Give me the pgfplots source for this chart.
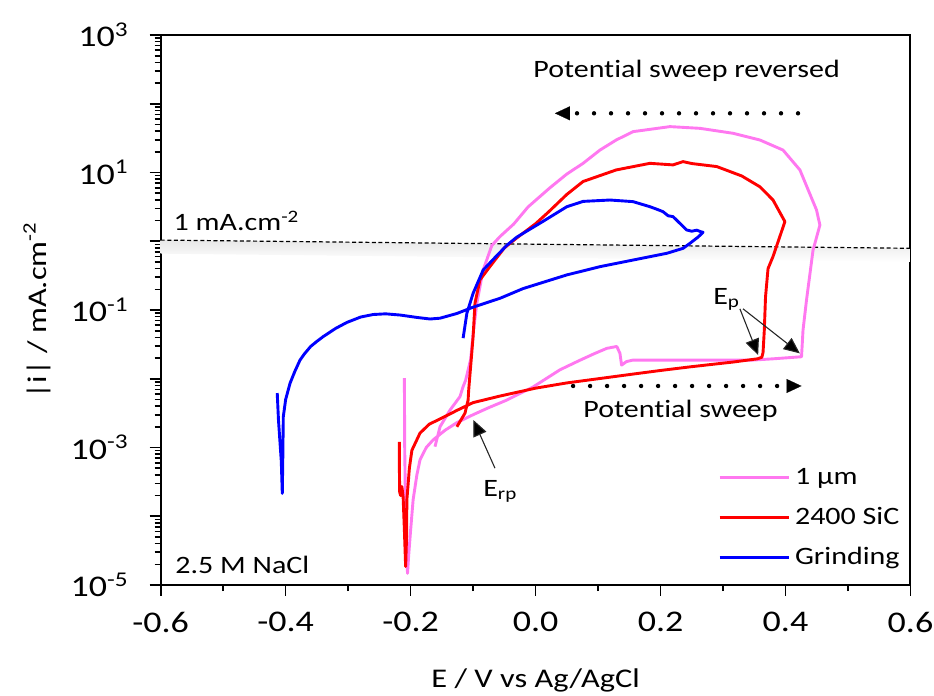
\documentclass[border=0pt]{standalone}
\usepackage{fontspec}
\setmainfont{Carlito}[FakeStretch=1.2, Ligatures=NoCommon]
\usepackage{pgfplots}
\pgfplotsset{compat=1.18}
\usetikzlibrary{arrows.meta}
\definecolor{pinkc}{RGB}{255,120,240}
\definecolor{redc}{RGB}{255,0,0}
\definecolor{bluec}{RGB}{0,0,255}
\begin{document}
\begin{tikzpicture}
\begin{axis}[
  scale only axis, width=374.9pt, height=275pt,
  xmin=-0.6, xmax=0.6, ymode=log, ymin=1e-5, ymax=1e3,
  xtick={-0.6,-0.4,-0.2,0,0.2,0.4,0.6},
  xticklabels={-0.6,-0.4,-0.2,0.0,0.2,0.4,0.6},
  minor xtick={-0.5,-0.3,-0.1,0.1,0.3,0.5},
  ytick={1e-5,1e-4,1e-3,1e-2,1e-1,1,10,100,1000},
  yticklabels={10\textsuperscript{-5},{},10\textsuperscript{-3},{},10\textsuperscript{-1},{},10\textsuperscript{1},{},10\textsuperscript{3}},
  minor ytick={2e-5,3e-5,4e-5,5e-5,6e-5,7e-5,8e-5,9e-5,
    2e-4,3e-4,4e-4,5e-4,6e-4,7e-4,8e-4,9e-4,
    2e-3,3e-3,4e-3,5e-3,6e-3,7e-3,8e-3,9e-3,
    2e-2,3e-2,4e-2,5e-2,6e-2,7e-2,8e-2,9e-2,
    0.2,0.3,0.4,0.5,0.6,0.7,0.8,0.9,
    2,3,4,5,6,7,8,9,
    20,30,40,50,60,70,80,90,
    200,300,400,500,600,700,800,900},
  tick align=outside, xtick pos=bottom, ytick pos=left,
  major tick length=5.5pt, minor tick length=3pt,
  axis line style={line width=1pt},
  every tick/.style={black, line width=0.8pt},
  tick label style={font=\fontsize{15}{18}\selectfont},
  xticklabel style={yshift=-4.5pt},
  yticklabel style={xshift=-7pt},
  label style={font=\fontsize{13.5}{16}\selectfont},
  xlabel={E / V vs Ag/AgCl},
  xlabel style={at={(axis description cs:0.5,-0.187)}, anchor=base},
  ylabel={|i| / mA.cm\textsuperscript{-2}},
  ylabel style={at={(axis description cs:-0.165,0.5)}, anchor=center},
  legend cell align=left,
  legend image code/.code={\draw[#1, line width=1.4pt] (0pt,0pt) -- (34.5pt,0pt);},
  legend style={draw=none, fill=none, at={(axis cs:0.2917,7.34e-4)}, anchor=north west,
    font=\fontsize{12.5}{15}\selectfont, row sep=0pt, inner sep=0pt,
    nodes={text height=11pt, text depth=4pt, inner sep=2.5pt}},
]
% shadow and 1 mA line
\addplot[draw=none, top color=black!9, bottom color=white, forget plot]
  coordinates {(-0.6,1.04) (0.6,0.79) (0.6,0.5) (-0.6,0.66)} -- cycle;
\addplot[black, line width=0.6pt, dash pattern=on 2pt off 1.3pt, forget plot]
  coordinates {(-0.6,1.04) (0.6,0.79)};

\addplot[pinkc, line width=1.45pt, line join=round] coordinates {
(-0.2100,1.02e-2) (-0.2095,1.0e-3) (-0.2080,1.0e-4) (-0.2050,1.48e-5) (-0.2030,2.8e-5)
(-0.2000,6.3e-5) (-0.1960,1.74e-4) (-0.1900,4.0e-4) (-0.1850,6.6e-4) (-0.1750,1.0e-3)
(-0.1640,1.29e-3) (-0.1450,1.78e-3) (-0.1260,2.3e-3) (-0.1000,3.0e-3) (-0.0750,3.8e-3)
(-0.0460,4.9e-3) (-0.0040,7.6e-3) (0.0390,1.35e-2) (0.0710,1.86e-2) (0.0950,2.34e-2)
(0.1140,2.77e-2) (0.1300,2.95e-2) (0.1350,2.34e-2) (0.1376,1.58e-2) (0.1456,1.78e-2)
(0.1560,1.87e-2) (0.2500,1.87e-2) (0.3480,1.87e-2) (0.3800,1.95e-2) (0.4256,2.09e-2)
(0.4280,5.1e-2) (0.4336,0.14) (0.4440,0.74) (0.4550,1.72) (0.4496,2.85)
(0.4230,10.9) (0.3960,21.2) (0.3590,29.7) (0.3160,37.2) (0.2630,43.9)
(0.2150,46.5) (0.1560,39.3) (0.1290,29.7) (0.1030,21.2) (0.0760,13.6)
(0.0500,9.5) (0.0230,6.0) (-0.0120,3.16) (-0.0350,1.78) (-0.0570,1.17)
(-0.0700,0.87) (-0.0840,0.38) (-0.0940,0.126) (-0.1000,4.5e-2) (-0.1040,1.9e-2)
(-0.1120,9.5e-3) (-0.1160,7.7e-3) (-0.1210,5.5e-3) (-0.1370,3.5e-3) (-0.1530,2.0e-3)
(-0.1610,1.03e-3)
};
\addlegendentry{1 μm}

\addplot[redc, line width=1.45pt, line join=round] coordinates {
(-0.2180,1.21e-3) (-0.2180,5.0e-4) (-0.2175,2.24e-4) (-0.2160,2.0e-4) (-0.2140,2.7e-4)
(-0.2120,1.9e-4) (-0.2100,6.3e-5) (-0.2080,1.86e-5) (-0.2065,5.0e-5) (-0.2060,1.74e-4)
(-0.2020,5.0e-4) (-0.1980,9.1e-4) (-0.1850,1.62e-3) (-0.1700,2.19e-3) (-0.1530,2.6e-3)
(-0.1250,3.5e-3) (-0.1000,4.5e-3) (-0.0570,5.6e-3) (0.0000,7.3e-3) (0.0500,8.7e-3)
(0.1000,1.0e-2) (0.1560,1.17e-2) (0.2000,1.32e-2) (0.2500,1.5e-2) (0.3160,1.75e-2)
(0.3550,1.95e-2) (0.3620,2.05e-2) (0.3640,2.4e-2) (0.3660,5.0e-2) (0.3680,0.156)
(0.3720,0.40) (0.3800,0.60) (0.3990,1.93) (0.3800,3.98) (0.3590,6.2)
(0.3300,8.9) (0.2900,12.2) (0.2500,13.5) (0.2360,14.4) (0.2200,12.9)
(0.1830,13.6) (0.1290,10.9) (0.0760,7.4) (0.0500,4.8) (0.0200,2.63)
(0.0000,1.8) (-0.0300,1.12) (-0.0500,0.8) (-0.0730,0.43) (-0.0890,0.275)
(-0.0970,0.126) (-0.1000,4.1e-2) (-0.1040,1.5e-2) (-0.1070,7.0e-3) (-0.1080,4.9e-3)
(-0.1130,3.16e-3) (-0.1260,2.0e-3)
};
\addlegendentry{2400 SiC}

\addplot[bluec, line width=1.45pt, line join=round] coordinates {
(-0.4135,6.2e-3) (-0.4115,2.5e-3) (-0.4070,6.3e-4) (-0.4054,2.15e-4) (-0.4045,7.9e-4)
(-0.4038,2.8e-3) (-0.4000,5.0e-3) (-0.3930,8.6e-3) (-0.3850,1.3e-2) (-0.3770,1.87e-2)
(-0.3700,2.3e-2) (-0.3600,2.95e-2) (-0.3500,3.5e-2) (-0.3400,4.1e-2) (-0.3200,5.4e-2)
(-0.3020,6.6e-2) (-0.2800,7.9e-2) (-0.2600,8.6e-2) (-0.2400,8.8e-2) (-0.2170,8.45e-2)
(-0.1900,7.8e-2) (-0.1690,7.4e-2) (-0.1530,7.6e-2) (-0.1260,8.9e-2) (-0.1000,0.11)
(-0.0570,0.148) (-0.0200,0.205)
(0.0500,0.324) (0.1030,0.427) (0.1560,0.533) (0.2100,0.668) (0.2360,0.789)
(0.2470,0.933) (0.2600,1.15) (0.2680,1.35) (0.2640,1.38) (0.2580,1.45)
(0.2500,1.40) (0.2416,1.46) (0.2310,1.82) (0.2200,2.28) (0.2120,2.35)
(0.2040,2.69) (0.1950,2.9) (0.1830,3.18) (0.1560,3.77) (0.1190,3.98)
(0.0760,3.8) (0.0500,3.18) (0.0100,1.9) (-0.0300,1.15) (-0.0460,0.875)
(-0.0700,0.52) (-0.0840,0.38) (-0.1000,0.175) (-0.1100,8.95e-2) (-0.1160,3.9e-2)
};
\addlegendentry{Grinding}

% annotations
\node[anchor=base west, font=\fontsize{12.5}{15}\selectfont, inner sep=0pt] at (axis cs:-0.58,1.41) {1 mA.cm\textsuperscript{-2}};
\node[anchor=base, font=\fontsize{12.5}{15}\selectfont, inner sep=0pt] at (axis cs:0.2416,240) {Potential sweep reversed};
\node[anchor=base, font=\fontsize{12.5}{15}\selectfont, inner sep=0pt] at (axis cs:0.232,2.72e-3) {Potential sweep};
\node[anchor=base west, font=\fontsize{12.5}{15}\selectfont, inner sep=0pt] at (axis cs:-0.577,1.48e-5) {2.5 M NaCl};
\node[anchor=base west, font=\fontsize{12.5}{15}\selectfont, inner sep=0pt] at (axis cs:0.2837,0.122) {E\textsubscript{p}};
\node[anchor=base west, font=\fontsize{12.5}{15}\selectfont, inner sep=0pt] at (axis cs:-0.0843,1.97e-4) {E\textsubscript{rp}};

% dotted arrows
\draw[black, line width=2.2pt, line cap=round, dash pattern=on 0pt off 8.5pt] (axis cs:0.42,72.6) -- (axis cs:0.05,72.6);
\draw[black, -{Triangle[length=7.5pt,width=7pt]}, line width=0.1pt] (axis cs:0.045,72.6) -- (axis cs:0.031,72.6);
\draw[black, line width=2.2pt, line cap=round, dash pattern=on 0pt off 8.5pt] (axis cs:0.06,7.85e-3) -- (axis cs:0.405,7.85e-3);
\draw[black, -{Triangle[length=7.5pt,width=7pt]}, line width=0.1pt] (axis cs:0.41,7.85e-3) -- (axis cs:0.4256,7.85e-3);

% Ep, Erp arrows
\draw[black!85, line width=0.55pt, -{Triangle[length=8pt,width=7pt,fill=black]}] (axis cs:0.327,0.104) -- (axis cs:0.3562,2.21e-2);
\draw[black!85, line width=0.55pt, -{Triangle[length=8pt,width=7pt,fill=black]}] (axis cs:0.332,0.104) -- (axis cs:0.4229,2.34e-2);
\draw[black!85, line width=0.55pt, -{Triangle[length=8pt,width=7pt,fill=black]}] (axis cs:-0.065,5.0e-4) -- (axis cs:-0.0995,2.51e-3);

\coordinate (LL) at (rel axis cs:0,0);
\coordinate (UR) at (rel axis cs:1,1);
\end{axis}
\pgfresetboundingbox
\useasboundingbox ([shift={(-80.35pt,-55pt)}]LL) rectangle ([shift={(11.75pt,17.5pt)}]UR);
\end{tikzpicture}
\end{document}
